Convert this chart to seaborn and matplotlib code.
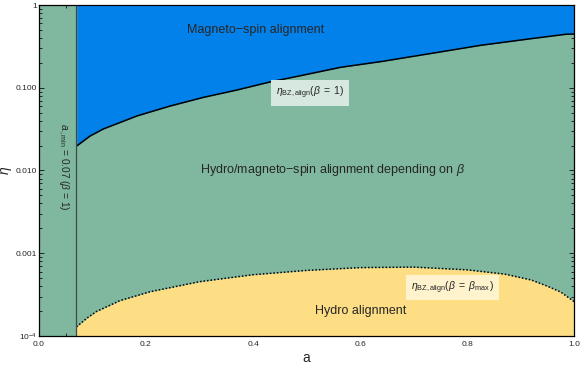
import matplotlib
matplotlib.use("Agg")
import matplotlib.pyplot as plt
import matplotlib.ticker as mticker
import numpy as np
import seaborn as sns

# spin alignment boundaries
a_min = 0.07

a_bz1 = [0.0706, 0.0955, 0.120, 0.183, 0.245, 0.308, 0.370, 0.433, 0.495, 0.564, 0.639, 0.73, 0.826,
         0.92, 0.985, 1.0]
eta_bz1 = [0.0198, 0.0261, 0.0317, 0.0456, 0.0601, 0.0767, 0.0939, 0.118, 0.1426, 0.1767, 0.207, 0.258,
           0.326, 0.392, 0.443, 0.446]

a_bzmax = [0.07, 0.09, 0.107, 0.151, 0.208, 0.30, 0.40, 0.50, 0.60, 0.70, 0.80, 0.87, 0.92, 0.95, 0.975,
           0.99, 1.0]
eta_bzmax = [1.29e-4, 1.65e-4, 1.97e-4, 2.67e-4, 3.43e-4, 4.53e-4, 5.5e-4, 6.2e-4, 6.7e-4, 6.8e-4, 6.3e-4,
             5.6e-4, 4.75e-4, 4.0e-4, 3.4e-4, 2.9e-4, 2.6e-4]

x_ticks = [0.0, 0.2, 0.4, 0.6, 0.8, 1.0]
y_ticks = [1e-4, 1e-3, 1e-2, 1e-1, 1]
y_labels = [r"$10^{-4}$", "0.001", "0.010", "0.100", "1"]

green = "#7fb89f"
blue = "#0381ea"
yellow = "#fdde85"

sns.set_style("ticks")
plt.rcParams["font.family"] = ["Liberation Sans", "DejaVu Sans"]
plt.rcParams["mathtext.fontset"] = "custom"
plt.rcParams["mathtext.rm"] = "Liberation Sans"
plt.rcParams["mathtext.it"] = "Liberation Sans:italic"

fig = plt.figure(figsize=(5.81, 3.65), dpi=100)
ax = fig.add_axes([0.0671, 0.0795, 0.988 - 0.0671, 0.9863 - 0.0795])
ax.set_facecolor(green)

# regions
ax.fill_between(a_bz1, eta_bz1, 1, color=blue, lw=0)
ax.fill_between(a_bzmax, 1e-4, eta_bzmax, color=yellow, lw=0)

# boundaries
sns.lineplot(x=a_bz1, y=eta_bz1, ax=ax, color="black", lw=1.1)
sns.lineplot(x=a_bzmax, y=eta_bzmax, ax=ax, color="black", lw=1.1, linestyle=(0, (1, 1.3)))
ax.axvline(a_min, color="#3e4a44", lw=0.9)

ax.set_yscale("log")
ax.set_xlim(0, 1)
ax.set_ylim(1e-4, 1)
ax.set_xticks(x_ticks)
ax.set_xticklabels(["0.0", "0.2", "0.4", "0.6", "0.8", "1.0"])
ax.set_yticks(y_ticks)
ax.set_yticklabels(y_labels)
ax.xaxis.set_minor_locator(mticker.MultipleLocator(0.05))
ax.yaxis.set_minor_locator(mticker.LogLocator(base=10, subs=np.arange(2, 10)))
ax.yaxis.set_minor_formatter(mticker.NullFormatter())
ax.tick_params(which="both", direction="in", top=True, right=True, labelsize=6, width=0.7)
ax.tick_params(axis="y", pad=1.5)
ax.tick_params(axis="x", pad=3.5)
ax.tick_params(which="major", length=3.5)
ax.tick_params(which="minor", length=2)
for s in ax.spines.values():
    s.set_linewidth(0.9)
    s.set_color("black")

ax.set_xlabel("a", fontsize=10, labelpad=2)
ax.set_ylabel(r"$\eta$", fontsize=10)
ax.yaxis.set_label_coords(-0.046, 0.5)

# labels
ax.text(0.404, 0.50, "Magneto−spin alignment", fontsize=9, ha="center", va="center")
ax.text(0.549, 0.0102, r"Hydro/magneto−spin alignment depending on $\it{\beta}$", fontsize=9,
        ha="center", va="center")
ax.text(0.601, 2.0e-4, "Hydro alignment", fontsize=9, ha="center", va="center")
ax.text(0.506, 0.0864, r"$\eta_{\mathrm{BZ,align}}(\beta\;=\;1)$", fontsize=7.5, ha="center", va="center",
        bbox=dict(boxstyle="square,pad=0.45", fc="#d6e8df", ec="none"))
ax.text(0.773, 3.86e-4, r"$\eta_{\mathrm{BZ,align}}(\beta\;=\;\beta_{\mathrm{max}}\,)$", fontsize=7.5,
        ha="center", va="center", bbox=dict(boxstyle="square,pad=0.45", fc="#fef3cd", ec="none"))
ax.text(0.046, 0.0112, r"$a_{\bullet,\mathrm{min}}$ = 0.07 ($\beta$ = 1)", fontsize=7.3, rotation=-90,
        ha="center", va="center")

fig.savefig("out.png", dpi=100)
